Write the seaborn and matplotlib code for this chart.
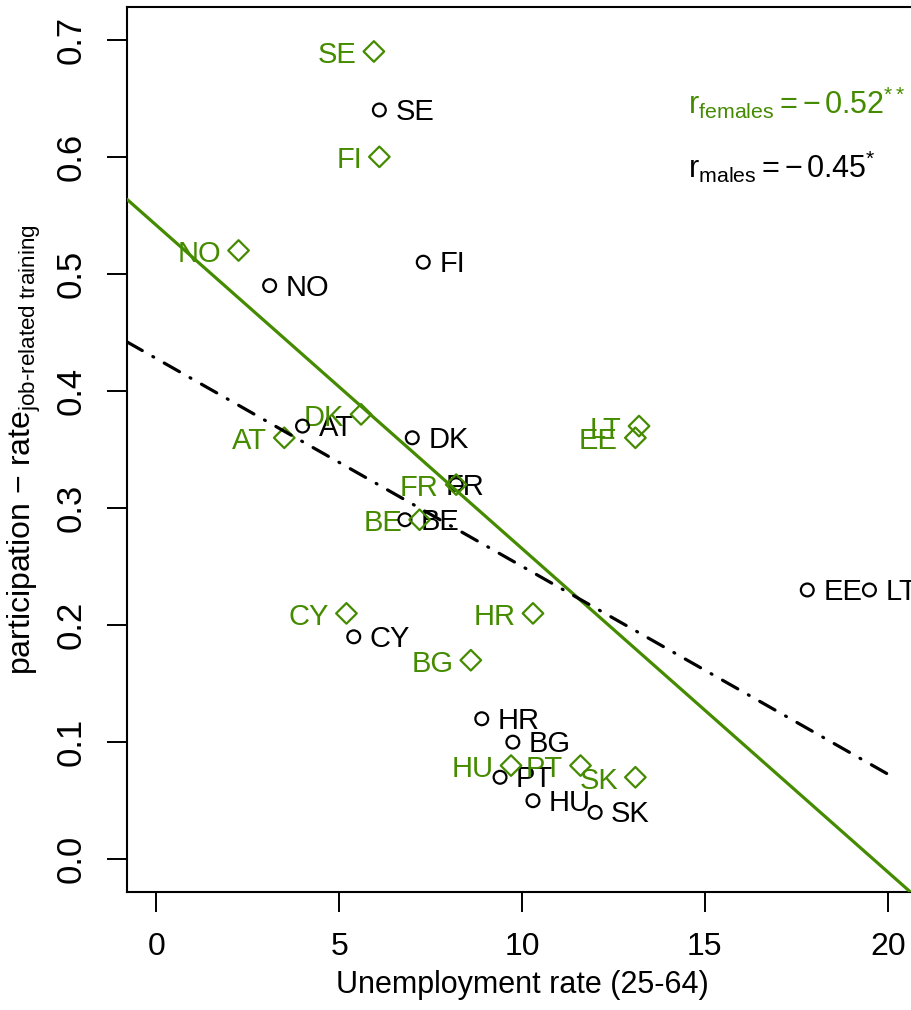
import numpy as np
import pandas as pd
import matplotlib
matplotlib.use("Agg")
import matplotlib.pyplot as plt
import seaborn as sns

# ---- data ----
countries_m = ["SE", "FI", "NO", "AT", "DK", "FR", "BE", "CY", "HR", "BG", "PT", "HU", "SK", "EE", "LT"]
unemp_m = [6.1, 7.3, 3.1, 4.0, 7.0, 8.2, 6.8, 5.4, 8.9, 9.75, 9.4, 10.3, 12.0, 17.8, 19.5]
part_m = [0.64, 0.51, 0.49, 0.37, 0.36, 0.32, 0.29, 0.19, 0.12, 0.10, 0.07, 0.05, 0.04, 0.23, 0.23]

countries_f = ["SE", "FI", "NO", "AT", "DK", "FR", "BE", "CY", "HR", "BG", "PT", "HU", "SK", "EE", "LT"]
unemp_f = [5.95, 6.1, 2.25, 3.5, 5.6, 8.2, 7.2, 5.2, 10.3, 8.6, 11.6, 9.7, 13.1, 13.1, 13.2]
part_f = [0.69, 0.60, 0.52, 0.36, 0.38, 0.32, 0.29, 0.21, 0.21, 0.17, 0.08, 0.08, 0.07, 0.36, 0.37]

x_ticks = [0, 5, 10, 15, 20]
y_ticks = [0.0, 0.1, 0.2, 0.3, 0.4, 0.5, 0.6, 0.7]
y_ticklabels = ["0.0", "0.1", "0.2", "0.3", "0.4", "0.5", "0.6", "0.7"]

r_females_text = r"$\mathrm{r}_{\mathrm{females}} = -\,0.52^{**}$"
r_males_text = r"$\mathrm{r}_{\mathrm{males}} = -\,0.45^{*}$"

# label offset overrides (points) for crowded labels
label_offset_m = {"FR": (-7.5, -1.5)}

GREEN = "#458B00"

df_m = pd.DataFrame({"country": countries_m, "unemp": unemp_m, "part": part_m})
df_f = pd.DataFrame({"country": countries_f, "unemp": unemp_f, "part": part_f})

sns.set_style("white")
plt.rcParams["font.family"] = ["Liberation Sans", "DejaVu Sans"]
plt.rcParams["mathtext.fontset"] = "custom"
plt.rcParams["mathtext.rm"] = "Liberation Sans"
plt.rcParams["mathtext.it"] = "Liberation Sans"
plt.rcParams["mathtext.bf"] = "Liberation Sans:bold"
plt.rcParams["text.color"] = "black"
plt.rcParams["axes.labelcolor"] = "black"

fig = plt.figure(figsize=(9.12, 10.10), dpi=100)
ax = fig.add_axes([127 / 912, (1010 - 892) / 1010, 790 / 912, 885 / 1010])

xlim = (-0.8, 20.8)
ylim = (-0.028, 0.728)
ax.set_xlim(*xlim)
ax.set_ylim(*ylim)

# points
sns.scatterplot(data=df_m, x="unemp", y="part", ax=ax, marker="o", s=85,
                facecolors="none", edgecolor="black", linewidth=1.6, zorder=3)
sns.scatterplot(data=df_f, x="unemp", y="part", ax=ax, marker="D", s=110,
                facecolors="none", edgecolor=GREEN, linewidth=1.6, zorder=3)

# regression lines
sns.regplot(data=df_f, x="unemp", y="part", ax=ax, scatter=False, ci=None,
            truncate=False, color=GREEN, line_kws={"lw": 2.3, "zorder": 4})
coef_m = np.polyfit(df_m["unemp"], df_m["part"], 1)
xs_m = np.array([xlim[0], 20.1])
ax.plot(xs_m, np.polyval(coef_m, xs_m), color="black", lw=2.3,
        dashes=(5.5, 3.8, 0.3, 3.8), dash_capstyle="round", zorder=4)

ax.set_xlim(*xlim)
ax.set_ylim(*ylim)

# labels
for c, x, y in zip(countries_m, unemp_m, part_m):
    off = label_offset_m.get(c, (11.5, -1.5))
    ax.annotate(c, (x, y), xytext=off, textcoords="offset points",
                ha="left", va="center", fontsize=21, color="black", zorder=2,
                annotation_clip=False)
for c, x, y in zip(countries_f, unemp_f, part_f):
    ax.annotate(c, (x, y), xytext=(-12.5, -2.5), textcoords="offset points",
                ha="right", va="center", fontsize=21, color=GREEN, zorder=2,
                annotation_clip=False)

ax.text(0.71, 0.8915, r_females_text, transform=ax.transAxes, color=GREEN,
        fontsize=22, ha="left", va="center")
ax.text(0.71, 0.819, r_males_text, transform=ax.transAxes, color="black",
        fontsize=22, ha="left", va="center")

# axes styling
ax.set_xticks(x_ticks)
ax.set_xticklabels([str(t) for t in x_ticks])
ax.set_yticks(y_ticks)
ax.set_yticklabels(y_ticklabels, rotation=90, va="center")
ax.tick_params(axis="both", direction="out", length=14.5, width=1.4,
               color="black", labelcolor="black", bottom=True, left=True,
               top=False, right=False)
ax.tick_params(axis="x", pad=14, labelsize=23)
ax.tick_params(axis="y", pad=14, labelsize=25)
for s in ["left", "bottom", "top", "right"]:
    ax.spines[s].set_color("black")
    ax.spines[s].set_linewidth(1.5)
    ax.spines[s].set_visible(True)

ax.set_xlabel("Unemployment rate (25-64)", fontsize=22, labelpad=6)
ax.set_ylabel(r"participation $-$ rate$_{\mathrm{job\text{-}related\ training}}$",
              fontsize=23, labelpad=8)

fig.savefig("out.png", dpi=100)
